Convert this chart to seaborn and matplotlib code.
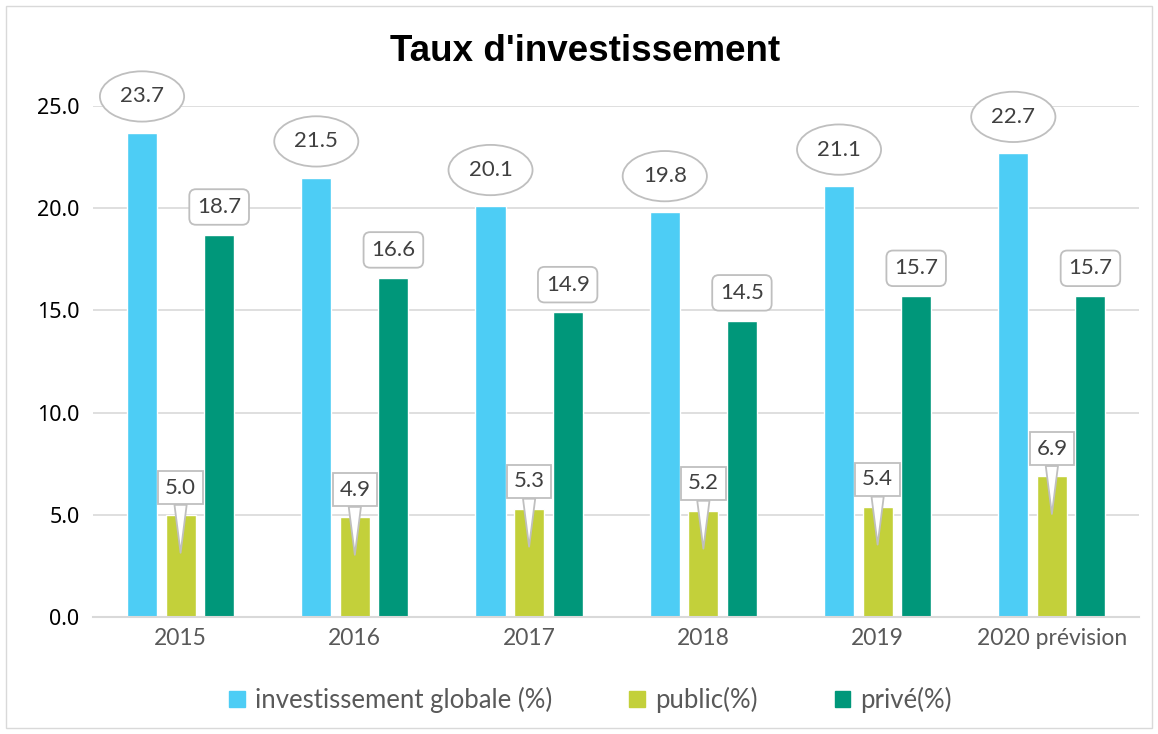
import matplotlib
matplotlib.use('Agg')
import matplotlib.pyplot as plt
from matplotlib.transforms import offset_copy
import numpy as np
import pandas as pd
import seaborn as sns
from matplotlib.patches import Rectangle

years = ['2015', '2016', '2017', '2018', '2019', '2020 prévision']
globale = [23.7, 21.5, 20.1, 19.8, 21.1, 22.7]
public = [5.0, 4.9, 5.3, 5.2, 5.4, 6.9]
prive = [18.7, 16.6, 14.9, 14.5, 15.7, 15.7]
series = ['investissement globale (%)', 'public(%)', 'privé(%)']
colors = ['#4dcdf5', '#c3d03a', '#00977a']

df = pd.DataFrame({'year': years, series[0]: globale, series[1]: public, series[2]: prive})
df_long = df.melt(id_vars='year', var_name='serie', value_name='taux')

sns.set_style('white')
plt.rcParams['font.family'] = ['Lato', 'DejaVu Sans']

fig = plt.figure(figsize=(11.58, 7.34), dpi=100)
ax = fig.add_axes([0.0807, 0.1594, 0.9029, 0.6962])

sns.barplot(data=df_long, x='year', y='taux', hue='serie', palette=colors,
            width=0.664, gap=0.22, ax=ax, legend=True, saturation=1)

ax.set_ylim(0, 25)
ax.set_yticks(np.arange(0, 25.1, 5))
ax.set_yticklabels([f'{v:.1f}' for v in np.arange(0, 25.1, 5)],
                   fontsize=15.5, color='black', family='Noto Sans')
ax.tick_params(axis='x', labelsize=16.5, labelcolor='#595959', length=0, pad=8)
ax.tick_params(axis='y', length=0, pad=10)
ax.set_xlabel('')
ax.set_ylabel('')
ax.grid(axis='y', color='#d9d9d9', lw=1.2)
ax.set_axisbelow(True)
for s in ['top', 'right', 'left']:
    ax.spines[s].set_visible(False)
ax.spines['bottom'].set_color('#d9d9d9')
ax.spines['bottom'].set_linewidth(1.5)

txt_color = '#404040'
edge = '#bfbfbf'
# point of the callout tip, a little inside the bar
tip = offset_copy(ax.transData, fig=fig, x=0, y=-38, units='dots')
for i, cont in enumerate(ax.containers):
    for bar in cont:
        x = bar.get_x() + bar.get_width() / 2
        h = bar.get_height()
        label = f'{h:.1f}'
        if i == 0:
            ax.annotate(label, (x, h), xytext=(0, 26), textcoords='offset points',
                        ha='center', va='center', fontsize=16, color=txt_color,
                        bbox=dict(boxstyle='ellipse,pad=0.35', fc='white', ec=edge, lw=1.3),
                        annotation_clip=False)
        elif i == 1:
            ax.annotate(label, (x, h), xycoords=tip, xytext=(0, 47), textcoords='offset points',
                        ha='center', va='center', fontsize=16, color=txt_color,
                        bbox=dict(boxstyle='square,pad=0.3', fc='white', ec=edge, lw=1.3),
                        arrowprops=dict(arrowstyle='wedge,tail_width=0.55,shrink_factor=0.5',
                                        fc='white', ec=edge, lw=1.3, shrinkA=0, shrinkB=0),
                        annotation_clip=False)
        else:
            ax.annotate(label, (x, h), xytext=(0, 20), textcoords='offset points',
                        ha='center', va='center', fontsize=16, color=txt_color,
                        bbox=dict(boxstyle='round,pad=0.35,rounding_size=0.3', fc='white', ec=edge, lw=1.3),
                        annotation_clip=False)

ax.legend_.remove()
handles = [Rectangle((0, 0), 1, 1, color=c) for c in colors]
fig.legend(handles, series, loc='center', bbox_to_anchor=(0.51, 0.046), ncol=3,
           frameon=False, fontsize=18.5, labelcolor='#595959', handlelength=0.6,
           handleheight=0.6, handletextpad=0.4, columnspacing=3.0)

fig.text(0.505, 0.93, "Taux d'investissement", ha='center', va='center',
         fontsize=26.5, fontweight='bold', color='black', family='Liberation Sans')

fig.patches.append(Rectangle((0.005, 0.008), 0.99, 0.984, transform=fig.transFigure,
                             fill=False, ec='#d9d9d9', lw=1))

fig.savefig('out.png', dpi=100)
